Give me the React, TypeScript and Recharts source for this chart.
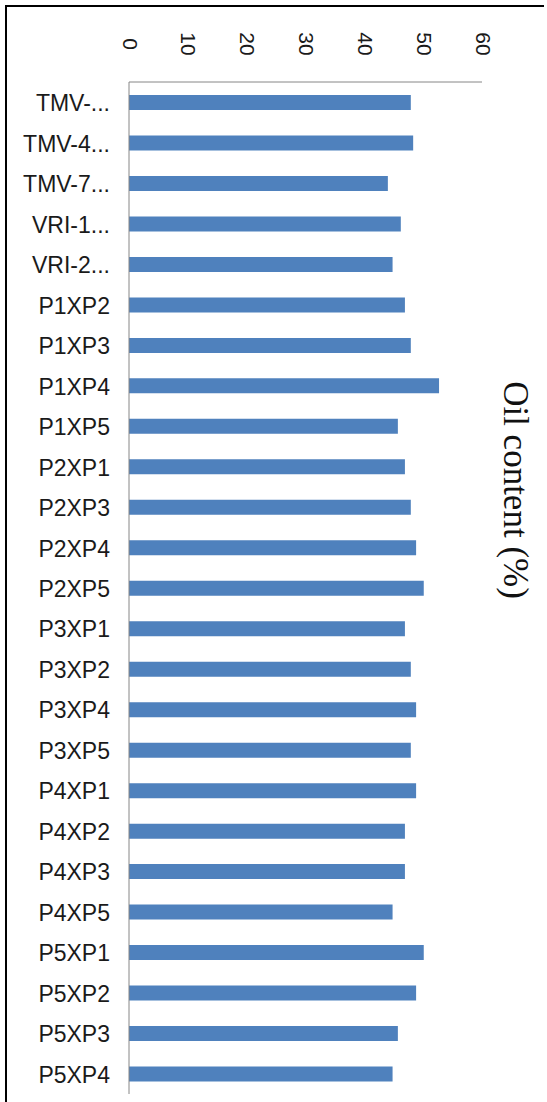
import { Bar, BarChart, XAxis, YAxis } from "recharts";

const categories = [
  "TMV-...", "TMV-4...", "TMV-7...", "VRI-1...", "VRI-2...",
  "P1XP2", "P1XP3", "P1XP4", "P1XP5",
  "P2XP1", "P2XP3", "P2XP4", "P2XP5",
  "P3XP1", "P3XP2", "P3XP4", "P3XP5",
  "P4XP1", "P4XP2", "P4XP3", "P4XP5",
  "P5XP1", "P5XP2", "P5XP3", "P5XP4",
];

const oilContent = [
  47.9, 48.3, 44.0, 46.2, 44.8,
  46.9, 47.9, 52.7, 45.7,
  46.9, 47.9, 48.8, 50.1,
  46.9, 47.9, 48.8, 47.9,
  48.8, 46.9, 46.9, 44.8,
  50.1, 48.8, 45.7, 44.8,
];

const valueTicks = [0, 10, 20, 30, 40, 50, 60];

const data = categories.map((name, i) => ({ name, oil: oilContent[i] }));

const sans = "'Liberation Sans', Arial, sans-serif";

// value labels sit above the plot, turned a quarter clockwise
function ValueTick({ x, payload }: any) {
  const cy = 44;
  return (
    <text
      x={x + 1}
      y={cy}
      transform={`rotate(90, ${x + 1}, ${cy})`}
      textAnchor="middle"
      dominantBaseline="central"
      fontFamily={sans}
      fontSize={21}
      fill="#1a1a1a"
    >
      {payload.value}
    </text>
  );
}

function CategoryTick({ y, payload }: any) {
  return (
    <text
      x={110}
      y={y + 1}
      textAnchor="end"
      dominantBaseline="central"
      fontFamily={sans}
      fontSize={23}
      fill="#1a1a1a"
    >
      {payload.value}
    </text>
  );
}

export default function App() {
  return (
    <div style={{ position: "absolute", left: 0, top: 0, width: 547, height: 1102, background: "#fff" }}>
      <BarChart
        width={547}
        height={1102}
        data={data}
        layout="vertical"
        margin={{ top: 12, right: 65, bottom: 8, left: 9 }}
        barCategoryGap="63%"
      >
        <XAxis
          type="number"
          orientation="top"
          domain={[0, 60]}
          ticks={valueTicks}
          height={70}
          axisLine={{ stroke: "#868686" }}
          tickLine={false}
          tick={<ValueTick />}
          interval={0}
        />
        <YAxis
          type="category"
          dataKey="name"
          width={120}
          axisLine={{ stroke: "#868686" }}
          tickLine={false}
          tick={<CategoryTick />}
          interval={0}
        />
        <Bar dataKey="oil" fill="#4F81BD" barSize={15} isAnimationActive={false} />
      </BarChart>
      <div
        style={{
          position: "absolute",
          left: 515,
          top: 490,
          transform: "translate(-50%, -50%) rotate(90deg)",
          whiteSpace: "nowrap",
          fontFamily: "'Liberation Serif', 'Times New Roman', serif",
          fontSize: 35,
          color: "#111",
        }}
      >
        Oil content (%)
      </div>
      <div style={{ position: "absolute", left: 5, top: 5, width: 537, height: 1097, borderTop: "2px solid #000", borderLeft: "2px solid #000" }} />
    </div>
  );
}
